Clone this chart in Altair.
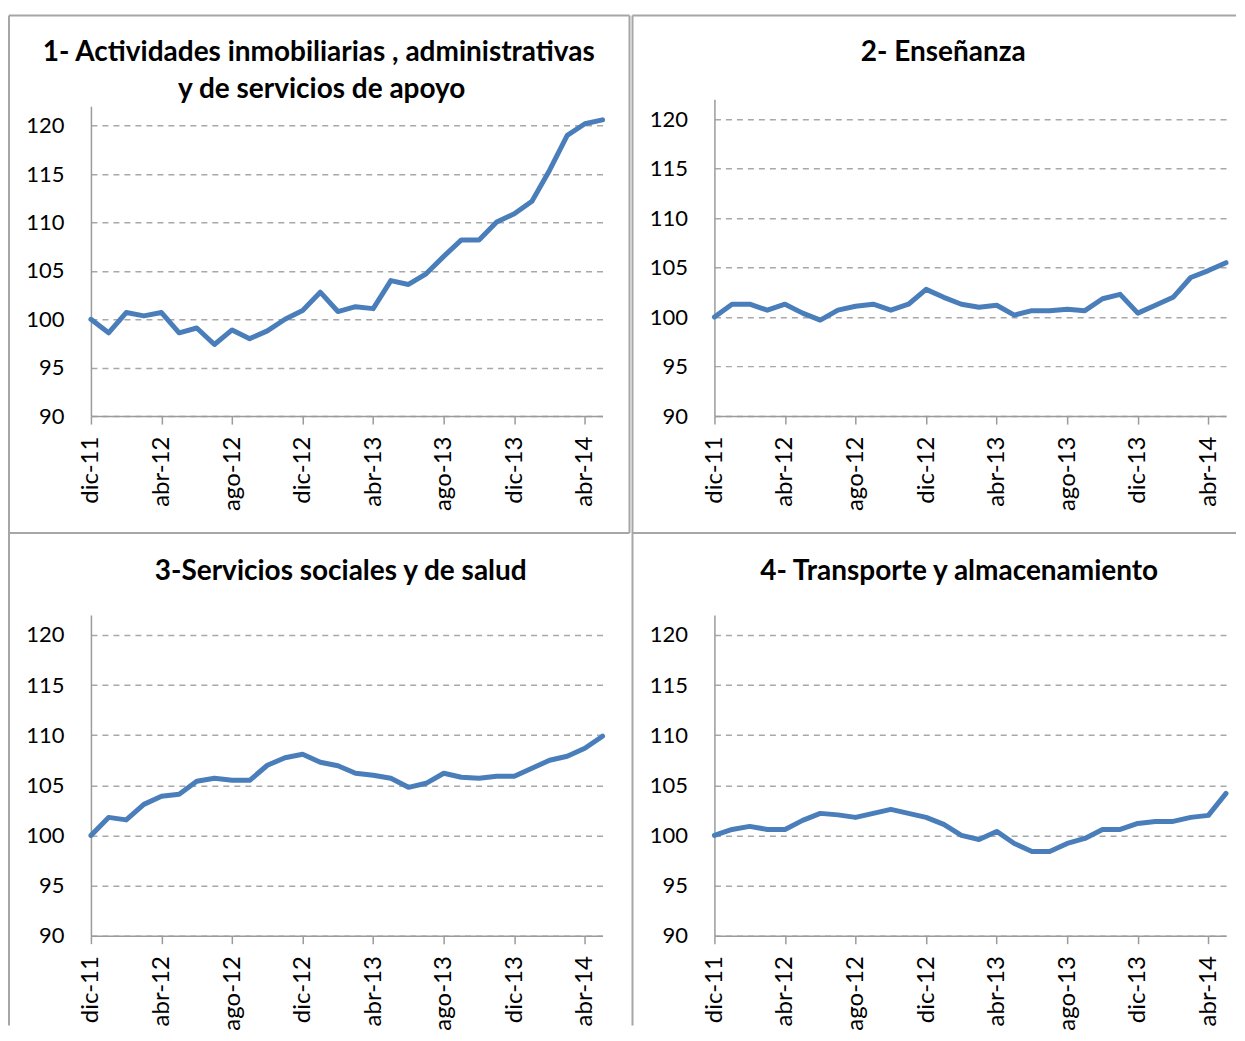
import altair as alt
import pandas as pd

months = ["dic-11",
          "ene-12", "feb-12", "mar-12", "abr-12", "may-12", "jun-12", "jul-12", "ago-12", "sep-12", "oct-12", "nov-12", "dic-12",
          "ene-13", "feb-13", "mar-13", "abr-13", "may-13", "jun-13", "jul-13", "ago-13", "sep-13", "oct-13", "nov-13", "dic-13",
          "ene-14", "feb-14", "mar-14", "abr-14", "may-14"]
tick_months = ["dic-11", "abr-12", "ago-12", "dic-12", "abr-13", "ago-13", "dic-13", "abr-14"]
y_ticks = [90, 95, 100, 105, 110, 115, 120]

s1 = [100.0, 98.6, 100.7, 100.35, 100.7, 98.6, 99.1, 97.4, 98.9, 98.0, 98.8, 100.0, 100.9, 102.8, 100.8,
      101.3, 101.1, 104.0, 103.6, 104.7, 106.5, 108.2, 108.2, 110.05, 110.9, 112.2, 115.4, 119.0, 120.2, 120.6]
s2 = [100.0, 101.3, 101.3, 100.7, 101.3, 100.4, 99.7, 100.7, 101.1, 101.3, 100.7, 101.3, 102.8, 102.0, 101.3,
      101.0, 101.2, 100.2, 100.65, 100.65, 100.8, 100.65, 101.85, 102.3, 100.4, 101.2, 102.0, 104.0, 104.7, 105.5]
s3 = [100.0, 101.8, 101.55, 103.1, 103.9, 104.1, 105.4, 105.7, 105.5, 105.5, 107.0, 107.75, 108.1, 107.3, 106.95,
      106.2, 106.0, 105.7, 104.8, 105.2, 106.2, 105.8, 105.7, 105.9, 105.9, 106.7, 107.5, 107.9, 108.7, 109.9]
s4 = [100.0, 100.6, 100.9, 100.6, 100.6, 101.5, 102.2, 102.05, 101.8, 102.2, 102.6, 102.2, 101.8, 101.1, 100.0,
      99.6, 100.4, 99.2, 98.4, 98.4, 99.2, 99.7, 100.6, 100.6, 101.2, 101.4, 101.4, 101.8, 102.0, 104.2]

titles = [
    ["1- Actividades inmobiliarias , administrativas", "y de servicios de apoyo"],
    ["2- Enseñanza"],
    ["3-Servicios sociales y de salud"],
    ["4- Transporte y almacenamiento"],
]

FONT = "Lato"
LINE_COLOR = "#4A7EBB"
AXIS_COLOR = "#9B9B9B"
BORDER_COLOR = "#A6A6A6"
W = 512
ONE = pd.DataFrame({"k": [0]})


def rule(x1, x2, y1, y2):
    enc = dict(x=alt.value(x1), y=alt.value(y1))
    if x1 != x2:
        enc["x2"] = alt.value(x2)
    if y1 != y2:
        enc["y2"] = alt.value(y2)
    return alt.Chart(ONE).mark_rule(color=BORDER_COLOR, strokeWidth=2).encode(**enc)


def title_text(txt, x, y):
    return alt.Chart(ONE).mark_text(
        font=FONT, fontSize=28, fontWeight="bold", color="#000000",
        align="center", baseline="middle"
    ).encode(x=alt.value(x), y=alt.value(y), text=alt.value(txt))


def panel(values, title, tpos, height, yrange=None, frame=()):
    df = pd.DataFrame({"mes": months, "valor": values})
    yscale = dict(domain=[90, 122], nice=False, zero=False)
    if yrange is not None:
        yscale["range"] = yrange
    line = alt.Chart(df).mark_line(
        color=LINE_COLOR, strokeWidth=5, strokeJoin="round", strokeCap="round"
    ).encode(
        x=alt.X("mes:O", sort=months, title=None,
                scale=alt.Scale(type="point", padding=0),
                axis=alt.Axis(values=tick_months, labelAngle=270, labelFont=FONT, labelFontSize=24,
                              labelColor="#000000", labelPadding=12, tickSize=8, tickColor=AXIS_COLOR,
                              tickWidth=1.5, domainColor=AXIS_COLOR, domainWidth=1.5, grid=False)),
        y=alt.Y("valor:Q", title=None, scale=alt.Scale(**yscale),
                axis=alt.Axis(values=y_ticks, labelFont=FONT, labelFontSize=22, labelColor="#000000",
                              labelPadding=27, ticks=False, domainColor=AXIS_COLOR, domainWidth=1.5,
                              grid=True, gridColor="#A8A8A8", gridDash=[6, 5], gridWidth=1.5)),
    )
    layers = [line] + [rule(*f) for f in frame]
    for txt, (x, y) in zip(title, tpos):
        layers.append(title_text(txt, x, y))
    return alt.layer(*layers).properties(width=W, height=height)


p1 = panel(s1, titles[0], [(228, -46), (231, -9)], 317, yrange=[317, 7],
           frame=[(-82, 539, -84, -84), (-82, -82, -84, 434), (539, 539, -84, 434)])
p2 = panel(s2, titles[1], [(229, -46)], 317,
           frame=[(-82, 522, -84, -84), (-82, -82, -84, 434)])
p3 = panel(s3, titles[2], [(250, -43)], 321,
           frame=[(-82, 539, -82, -82), (-82, -82, -82, 411)])
p4 = panel(s4, titles[3], [(245, -43)], 321,
           frame=[(-82, 522, -82, -82), (-82, -82, -82, 411)])

chart = alt.concat(p1, p2, p3, p4, columns=2, spacing={"row": 199, "column": 112}, bounds="flush").properties(
    padding={"left": 0, "top": 6, "right": 0, "bottom": 0},
    background="white",
).configure_view(stroke=None)

chart.save("out.html", embed_options={"renderer": "svg", "actions": False})
